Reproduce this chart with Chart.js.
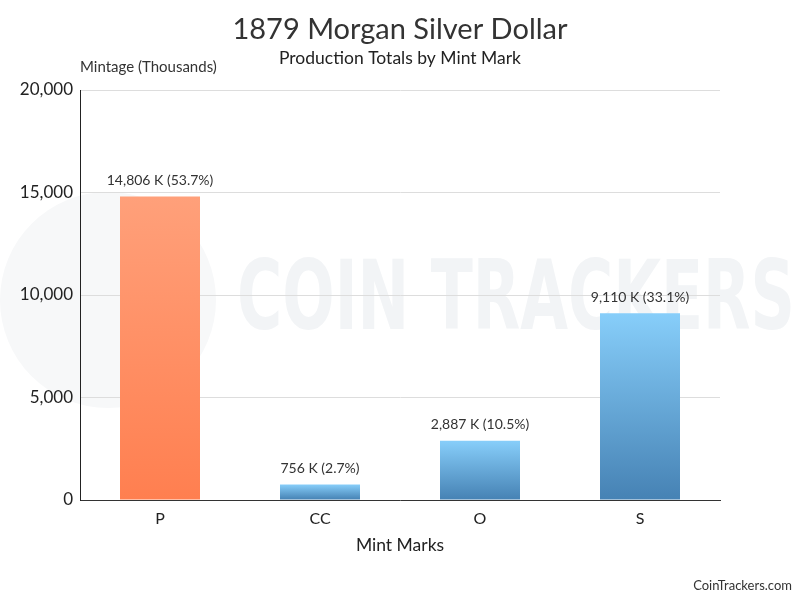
<!DOCTYPE html>
<html>
<head>
<meta charset="utf-8">
<title>1879 Morgan Silver Dollar</title>
<script src="https://cdn.jsdelivr.net/npm/chart.js@4.4.1/dist/chart.umd.min.js"></script>
<style>
  html, body { margin: 0; padding: 0; background: #fff; }
  #wrap { width: 800px; height: 600px; position: relative; }
</style>
</head>
<body>
<div id="wrap"><canvas id="mintChart" width="800" height="600"></canvas></div>
<script>
const mintMarks = ['P', 'CC', 'O', 'S'];
const mintage = [14806, 756, 2887, 9110];          // thousands
const shares = ['53.7%', '2.7%', '10.5%', '33.1%'];
const yTicks = [0, 5000, 10000, 15000, 20000];

const FONT = 'Lato, "Open Sans", sans-serif';

// top colour, bottom colour for each bar
const barColors = [
  ['#ffa07a', '#ff7f50'],
  ['#87cefa', '#4682b4'],
  ['#87cefa', '#4682b4'],
  ['#87cefa', '#4682b4']
];

// faint logo + "COIN TRACKERS" behind the plot
const watermark = {
  id: 'watermark',
  beforeDraw(chart) {
    const c = chart.ctx;
    c.save();
    c.fillStyle = '#f7f8f9';
    c.beginPath();
    c.arc(108, 300, 108, 0, Math.PI * 2);
    c.fill();
    c.fillStyle = '#f2f4f6';
    c.font = 'bold 96px "DejaVu Sans Condensed", "Liberation Sans Narrow", sans-serif';
    c.textBaseline = 'middle';
    const txt = 'COIN TRACKERS';
    const w = c.measureText(txt).width;
    c.translate(237, 304);
    c.scale(558 / w, 1);
    c.fillText(txt, 0, 0);
    c.restore();
  }
};

// vertical gradient fitted to each bar
const barGradient = {
  id: 'barGradient',
  beforeDatasetsDraw(chart) {
    const c = chart.ctx;
    chart.getDatasetMeta(0).data.forEach((bar, i) => {
      const g = c.createLinearGradient(0, bar.y, 0, bar.base);
      g.addColorStop(0, barColors[i][0]);
      g.addColorStop(1, barColors[i][1]);
      bar.options.backgroundColor = g;
    });
  }
};

const extras = {
  id: 'extras',
  afterDraw(chart) {
    const c = chart.ctx;
    const area = chart.chartArea;
    c.save();
    c.textBaseline = 'middle';
    c.textAlign = 'center';
    // titles, centred on the whole canvas
    c.fillStyle = '#333';
    c.font = '29px ' + FONT;
    c.fillText('1879 Morgan Silver Dollar', 400, 30);
    c.fillStyle = '#222';
    c.font = '17.5px ' + FONT;
    c.fillText('Production Totals by Mint Mark', 400, 58);
    // value labels above bars
    c.fillStyle = '#333';
    c.font = '14px ' + FONT;
    chart.getDatasetMeta(0).data.forEach((bar, i) => {
      c.fillText(mintage[i].toLocaleString('en-US') + ' K (' + shares[i] + ')', bar.x, bar.y - 16);
    });
    // axis caption
    c.textAlign = 'left';
    c.font = '15px ' + FONT;
    c.fillText('Mintage (Thousands)', area.left, 67);
    // credit
    c.textAlign = 'right';
    c.font = '13px ' + FONT;
    c.fillText('CoinTrackers.com', 792, 586);
    c.restore();
  }
};

new Chart(document.getElementById('mintChart'), {
  type: 'bar',
  data: {
    labels: mintMarks,
    datasets: [{
      data: mintage,
      backgroundColor: barColors.map(b => b[1]),
      borderWidth: 0,
      categoryPercentage: 1,
      barPercentage: 0.5
    }]
  },
  options: {
    responsive: false,
    animation: false,
    layout: { padding: { left: 0, right: 80, top: 90, bottom: 40 } },
    plugins: {
      legend: { display: false },
      tooltip: { enabled: false },
      title: { display: false }
    },
    scales: {
      x: {
        grid: { display: false, drawTicks: false },
        border: { color: '#333', width: 1 },
        ticks: { color: '#222', font: { family: FONT, size: 16 }, padding: 9 },
        title: {
          display: true,
          text: 'Mint Marks',
          color: '#222',
          font: { family: FONT, size: 17.5, lineHeight: 1.2 },
          padding: { top: 4, bottom: 4 }
        },
        afterFit(scale) { scale.height = 60; }
      },
      y: {
        min: 0,
        max: 20000,
        grid: { color: '#dddddd', drawTicks: false },
        border: { color: '#222', width: 1 },
        afterBuildTicks(scale) { scale.ticks = yTicks.map(v => ({ value: v })); },
        ticks: {
          color: '#222',
          font: { family: FONT, size: 17 },
          padding: 7,
          callback: v => v.toLocaleString('en-US')
        },
        afterFit(scale) { scale.width = 80; }
      }
    }
  },
  plugins: [watermark, barGradient, extras]
});
</script>
</body>
</html>
